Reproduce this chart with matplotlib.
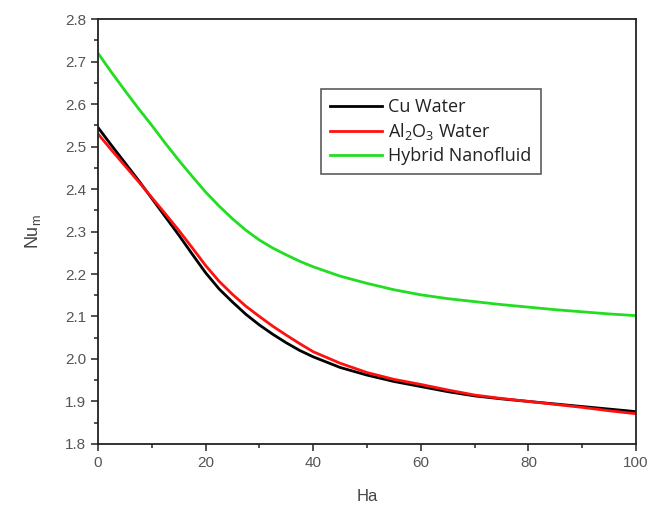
import numpy as np
import matplotlib
matplotlib.use('Agg')
import matplotlib.pyplot as plt
from matplotlib.ticker import MultipleLocator

# Ha values and mean Nusselt number for each fluid
ha = [0, 2.5, 5, 7.5, 10, 12.5, 15, 17.5, 20, 22.5, 25, 27.5, 30, 32.5, 35, 37.5, 40,
      45, 50, 55, 60, 65, 70, 75, 80, 85, 90, 95, 100]
nu_cu = [2.545, 2.503, 2.462, 2.421, 2.378, 2.335, 2.292, 2.247, 2.203, 2.165, 2.134,
         2.105, 2.08, 2.058, 2.038, 2.02, 2.005,
         1.98, 1.962, 1.947, 1.935, 1.923, 1.913, 1.906, 1.90, 1.894, 1.888, 1.882, 1.876]
nu_al2o3 = [2.53, 2.492, 2.455, 2.418, 2.38, 2.342, 2.303, 2.262, 2.22, 2.183, 2.152,
            2.124, 2.10, 2.077, 2.056, 2.036, 2.017,
            1.99, 1.968, 1.952, 1.94, 1.927, 1.915, 1.907, 1.90, 1.893, 1.886, 1.878, 1.871]
nu_hybrid = [2.72, 2.675, 2.632, 2.59, 2.55, 2.508, 2.468, 2.43, 2.393, 2.36, 2.33,
             2.303, 2.28, 2.261, 2.245, 2.23, 2.217,
             2.195, 2.178, 2.163, 2.151, 2.142, 2.135, 2.128, 2.122, 2.116, 2.111, 2.106, 2.102]

labels = ['Cu Water', r'Al$_\mathregular{2}$O$_\mathregular{3}$ Water', 'Hybrid Nanofluid']

plt.rcParams['font.family'] = ['Liberation Sans', 'DejaVu Sans']

fig = plt.figure(figsize=(6.49, 5.05), dpi=100)
ax = fig.add_axes([0.151, 0.121, 0.829, 0.841])

ax.plot(ha, nu_cu, color='black', lw=2, label=labels[0])
ax.plot(ha, nu_al2o3, color='#ff1010', lw=2, label=labels[1])
ax.plot(ha, nu_hybrid, color='#22dd22', lw=2, label=labels[2])

ax.set_xlim(0, 100)
ax.set_ylim(1.8, 2.8)
ax.xaxis.set_major_locator(MultipleLocator(20))
ax.xaxis.set_minor_locator(MultipleLocator(10))
ax.yaxis.set_major_locator(MultipleLocator(0.1))
ax.yaxis.set_minor_locator(MultipleLocator(0.05))
ax.yaxis.set_major_formatter(plt.FormatStrFormatter('%.1f'))

ax.tick_params(which='both', direction='out', top=False, right=False,
               colors='#333333', labelcolor='#555555', width=1.2)
ax.tick_params(which='major', length=5, labelsize=11)
ax.tick_params(which='minor', length=3)
for s in ax.spines.values():
    s.set_linewidth(1.3)
    s.set_color('#222222')

ax.set_xlabel('Ha', fontsize=12, color='#444444', labelpad=14)
ax.set_ylabel(r'Nu$_\mathregular{m}$', fontsize=13, color='#444444', labelpad=16)

leg = ax.legend(loc='upper left', bbox_to_anchor=(0.414, 0.835), borderaxespad=0,
                frameon=True, fancybox=False, edgecolor='#333333',
                handlelength=2.9, borderpad=0.5, labelspacing=0.28,
                handletextpad=0.35, prop={'family': ['Open Sans', 'DejaVu Sans'], 'size': 13})
leg.get_frame().set_linewidth(1.2)
for t in leg.get_texts():
    t.set_color('#222222')

fig.savefig('out.png', dpi=100)
